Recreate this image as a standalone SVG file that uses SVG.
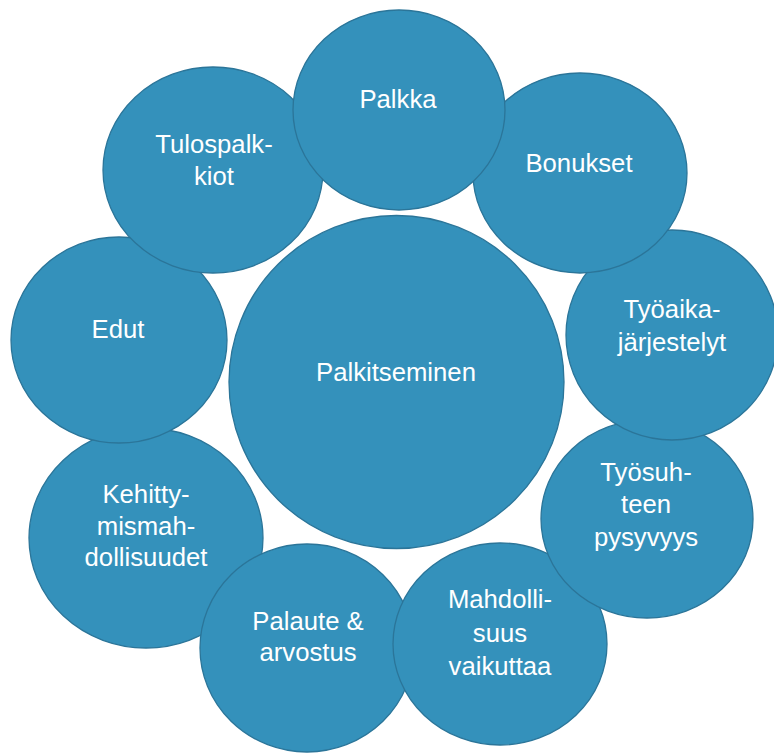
<svg xmlns="http://www.w3.org/2000/svg" width="774" height="753" viewBox="0 0 774 753">
  <style>
    .bubble { fill: #3491bb; stroke: #2b7599; stroke-width: 1.3; }
    .label { fill: #ffffff; font-family: "Liberation Sans", Arial, sans-serif; font-size: 25.7px; text-anchor: middle; }
  </style>
  <rect width="774" height="753" fill="#ffffff"/>

  <!-- no connectors: the satellites simply surround the hub -->
  <g id="connectors"/>

  <!-- hub -->
  <g id="palkitseminen">
    <ellipse class="bubble" cx="396.5" cy="382" rx="167.5" ry="166.5"/>
    <text class="label" x="396" y="381">Palkitseminen</text>
  </g>

  <!-- satellites, painted back to front -->
  <g id="kehittymismahdollisuudet">
    <ellipse class="bubble" cx="146" cy="538" rx="117" ry="110"/>
    <text class="label" x="146" y="503">Kehitty-</text>
    <text class="label" x="146" y="535">mismah-</text>
    <text class="label" x="146" y="566">dollisuudet</text>
  </g>

  <g id="palaute">
    <ellipse class="bubble" cx="307" cy="648" rx="107" ry="104"/>
    <text class="label" x="308" y="630">Palaute &amp;</text>
    <text class="label" x="308" y="661">arvostus</text>
  </g>

  <g id="mahdollisuus">
    <ellipse class="bubble" cx="500" cy="644" rx="107" ry="101"/>
    <text class="label" x="500" y="608">Mahdolli-</text>
    <text class="label" x="500" y="642">suus</text>
    <text class="label" x="500" y="675">vaikuttaa</text>
  </g>

  <g id="tyosuhteen-pysyvyys">
    <ellipse class="bubble" cx="647" cy="519" rx="106" ry="99"/>
    <text class="label" x="646" y="481">Työsuh-</text>
    <text class="label" x="646" y="513">teen</text>
    <text class="label" x="646" y="546">pysyvyys</text>
  </g>

  <g id="tyoaikajarjestelyt">
    <ellipse class="bubble" cx="672" cy="335" rx="106" ry="105"/>
    <text class="label" x="672" y="318">Työaika-</text>
    <text class="label" x="672" y="351">järjestelyt</text>
  </g>

  <g id="bonukset">
    <ellipse class="bubble" cx="580" cy="173" rx="107" ry="100"/>
    <text class="label" x="579" y="172">Bonukset</text>
  </g>

  <g id="edut">
    <ellipse class="bubble" cx="119" cy="340" rx="108" ry="103"/>
    <text class="label" x="118" y="338">Edut</text>
  </g>

  <g id="tulospalkkiot">
    <ellipse class="bubble" cx="213" cy="170" rx="110" ry="103"/>
    <text class="label" x="214" y="153">Tulospalk-</text>
    <text class="label" x="214" y="185">kiot</text>
  </g>

  <g id="palkka">
    <ellipse class="bubble" cx="399" cy="110" rx="106" ry="100"/>
    <text class="label" x="398" y="108">Palkka</text>
  </g>
</svg>
